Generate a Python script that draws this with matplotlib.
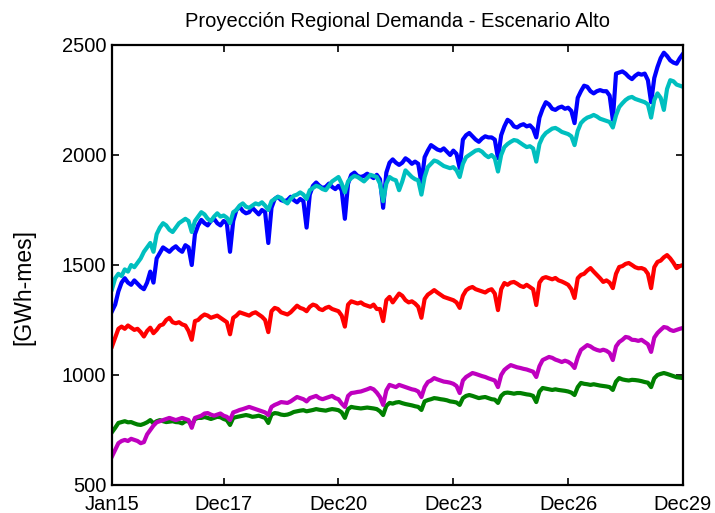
import matplotlib
matplotlib.use("Agg")
import matplotlib.pyplot as plt

plt.rcParams["font.family"] = ["Liberation Sans", "DejaVu Sans"]

# monthly regional demand, Jan 2015 .. Dec 2029 (GWh-mes), one row per year
BLUE = [
    1290, 1320, 1380, 1420, 1440, 1420, 1410, 1430, 1415, 1400, 1390, 1420,
    1470, 1420, 1530, 1555, 1580, 1570, 1560, 1575, 1585, 1570, 1560, 1590,
    1580, 1500, 1640, 1680, 1705, 1690, 1680, 1700, 1710, 1690, 1680, 1700,
    1690, 1560, 1700, 1750, 1765, 1745, 1735, 1740, 1760, 1745, 1730, 1750,
    1740, 1600, 1760, 1800, 1810, 1795, 1790, 1795, 1810, 1795, 1785, 1800,
    1790, 1670, 1820, 1860, 1875, 1860, 1850, 1855, 1870, 1855, 1845, 1860,
    1840, 1710, 1870, 1910, 1920, 1905, 1900, 1905, 1915, 1905, 1895, 1910,
    1890, 1760, 1920, 1965, 1980, 1965, 1955, 1965, 1985, 1975, 1960, 1970,
    1960, 1870, 1990, 2020, 2045, 2035, 2025, 2020, 2030, 2015, 2000, 2020,
    2005, 1940, 2070, 2090, 2100, 2085, 2070, 2060, 2075, 2085, 2080, 2080,
    2070, 1985, 2090, 2130, 2160, 2150, 2130, 2125, 2135, 2140, 2130, 2135,
    2120, 2080, 2170, 2210, 2240, 2230, 2210, 2205, 2215, 2220, 2210, 2215,
    2200, 2145, 2260, 2290, 2315, 2310, 2290, 2280, 2290, 2295, 2290, 2290,
    2270, 2160, 2370, 2375, 2380, 2370, 2355, 2345, 2360, 2370, 2365, 2370,
    2340, 2240, 2350, 2400, 2440, 2465, 2450, 2430, 2420, 2415, 2440, 2460,
]
GREEN = [
    740, 760, 782, 786, 790, 785, 786, 780, 775, 773, 778, 785,
    795, 780, 790, 795, 790, 786, 788, 790, 786, 785, 780, 790,
    790, 773, 800, 805, 805, 809, 805, 800, 805, 810, 808, 800,
    795, 773, 805, 809, 812, 815, 818, 815, 810, 812, 815, 810,
    805, 782, 820, 827, 825, 820, 818, 820, 825, 832, 835, 838,
    840, 835, 838, 841, 845, 842, 840, 838, 842, 845, 843, 840,
    830, 805, 845, 855, 852, 850, 848, 850, 852, 850, 848, 845,
    835, 818, 860, 873, 870, 875, 877, 872, 868, 865, 862, 858,
    855, 841, 880, 886, 890, 895, 893, 890, 888, 885, 880, 878,
    875, 864, 895, 905, 909, 905, 900, 895, 898, 900, 895, 890,
    888, 873, 905, 918, 920, 918, 915, 918, 918, 915, 912, 910,
    905, 877, 925, 941, 938, 935, 932, 935, 932, 930, 928, 925,
    920, 909, 945, 964, 960, 958, 955, 958, 955, 952, 950, 948,
    945, 932, 970, 986, 980, 977, 975, 978, 977, 975, 972, 968,
    965, 945, 985, 1000, 1005, 1009, 1005, 1000, 995, 990, 988, 986,
]
RED = [
    1130, 1170, 1210, 1220, 1210, 1225, 1215, 1205, 1210, 1195, 1175, 1200,
    1215, 1190, 1205, 1225, 1230, 1250, 1260, 1240, 1235, 1240, 1230, 1225,
    1200, 1160, 1245, 1250, 1265, 1275, 1270, 1260, 1265, 1270, 1260, 1250,
    1240, 1185, 1260, 1270, 1285, 1280, 1275, 1270, 1280, 1285, 1275, 1265,
    1250, 1195, 1290, 1305, 1300, 1285, 1280, 1275, 1285, 1300, 1315, 1305,
    1300, 1290, 1310, 1320, 1315, 1300, 1295, 1305, 1310, 1300, 1295, 1290,
    1270, 1220, 1320, 1335, 1330, 1325, 1330, 1320, 1315, 1310, 1320, 1300,
    1300, 1245, 1340, 1355, 1330, 1350, 1370, 1360, 1340, 1330, 1335, 1325,
    1310, 1260, 1345, 1365, 1375, 1386, 1375, 1365, 1355, 1350, 1345, 1340,
    1330, 1305, 1360, 1385, 1395, 1400, 1390, 1385, 1380, 1375, 1385, 1390,
    1370, 1295, 1390, 1418, 1410, 1420, 1423, 1415, 1405, 1400, 1410, 1400,
    1390, 1318, 1420, 1440, 1445, 1440, 1435, 1441, 1430, 1425, 1418, 1410,
    1390, 1350, 1440, 1455, 1460, 1475, 1486, 1470, 1455, 1440, 1423, 1430,
    1420, 1395, 1460, 1491, 1495, 1505, 1509, 1500, 1490, 1485, 1486, 1480,
    1460, 1395, 1490, 1514, 1520, 1535, 1545, 1530, 1510, 1486, 1495, 1500,
]
CYAN = [
    1390, 1440, 1460, 1450, 1480, 1470, 1500, 1490, 1510, 1530, 1560, 1580,
    1600, 1560, 1640, 1670, 1690, 1680, 1660, 1650, 1670, 1690, 1700, 1710,
    1700, 1650, 1700, 1720, 1740, 1730, 1710, 1700, 1720, 1735, 1720, 1725,
    1715, 1690, 1740, 1750, 1770, 1780, 1765, 1760, 1770, 1780, 1775, 1785,
    1770, 1750, 1790, 1800, 1810, 1805, 1790, 1780, 1800, 1815, 1820, 1830,
    1820, 1800, 1840, 1850, 1860, 1855, 1845, 1840, 1860, 1880, 1890, 1900,
    1870, 1830, 1880, 1895, 1905, 1900, 1890, 1880, 1895, 1910, 1905, 1900,
    1870, 1790, 1870, 1900, 1890, 1885, 1840, 1880, 1930, 1915, 1900, 1890,
    1885, 1820, 1900, 1945, 1960, 1975, 1970, 1960, 1950, 1945, 1940, 1945,
    1930, 1900, 1960, 1990, 2000, 2010, 2020, 2023, 2015, 2000, 1990, 2000,
    1985, 1925, 2000, 2036, 2050, 2060, 2068, 2065, 2055, 2045, 2036, 2040,
    2030, 1970, 2050, 2082, 2100, 2110, 2120, 2123, 2115, 2105, 2100, 2095,
    2085, 2045, 2110, 2145, 2160, 2170, 2175, 2182, 2175, 2165, 2160, 2155,
    2150, 2125, 2180, 2218, 2235, 2250, 2260, 2264, 2255, 2250, 2245, 2240,
    2230, 2170, 2250, 2280, 2260, 2205, 2300, 2340, 2335, 2320, 2315, 2310,
]
MAGENTA = [
    630, 660, 690, 700, 705, 700, 710, 705, 700, 690, 695, 730,
    750, 770, 785, 790, 795, 800, 805, 800, 795, 800, 805, 800,
    795, 760, 805, 810, 815, 825, 827, 820, 815, 820, 825, 815,
    810, 795, 830, 835, 841, 845, 850, 855, 850, 845, 840, 835,
    830, 818, 855, 864, 870, 877, 875, 873, 880, 890, 900, 895,
    890, 880, 895, 900, 905, 895, 890, 895, 900, 905, 895, 890,
    870, 855, 905, 918, 920, 923, 925, 930, 935, 941, 935, 920,
    900, 864, 930, 955, 950, 945, 955, 950, 945, 940, 935, 932,
    925, 900, 945, 968, 975, 986, 980, 975, 970, 968, 965, 960,
    950, 918, 975, 991, 1000, 1009, 1005, 1000, 995, 991, 985, 980,
    975, 945, 1000, 1023, 1035, 1045, 1040, 1035, 1032, 1028, 1025, 1020,
    1015, 991, 1040, 1068, 1075, 1082, 1078, 1070, 1065, 1059, 1065, 1060,
    1050, 1032, 1080, 1114, 1125, 1136, 1130, 1120, 1114, 1110, 1115, 1110,
    1100, 1068, 1130, 1150, 1160, 1173, 1170, 1160, 1159, 1155, 1160, 1150,
    1140, 1105, 1170, 1191, 1205, 1218, 1215, 1205, 1200, 1205, 1210, 1214,
]

X_TICKS = [0, 35, 71, 107, 143, 179]
X_LABELS = ["Jan15", "Dec17", "Dec20", "Dec23", "Dec26", "Dec29"]
Y_TICKS = [500, 1000, 1500, 2000, 2500]

# old matlab plot colour order: b, g, r, c, m
SERIES = [
    (BLUE, (0.0, 0.0, 1.0)),
    (GREEN, (0.0, 0.5, 0.0)),
    (RED, (1.0, 0.0, 0.0)),
    (CYAN, (0.0, 0.75, 0.75)),
    (MAGENTA, (0.75, 0.0, 0.75)),
]


def main() -> None:
    fig = plt.figure(figsize=(7.15, 5.13), dpi=100)
    ax = fig.add_axes([112 / 715, 1 - 485 / 513, 571 / 715, 440 / 513])

    for values, color in SERIES:
        ax.plot(range(len(values)), values, color=color, linewidth=3.0, solid_joinstyle="round")

    ax.set_xlim(0, len(BLUE) - 1)
    ax.set_ylim(500, 2500)
    ax.set_xticks(X_TICKS)
    ax.set_xticklabels(X_LABELS)
    ax.set_yticks(Y_TICKS)
    ax.tick_params(direction="in", length=5, width=1.2, top=True, right=True,
                   labelsize=14.5)
    ax.tick_params(axis="x", pad=7)
    ax.tick_params(axis="y", pad=4)
    for spine in ax.spines.values():
        spine.set_linewidth(1.6)

    ax.set_ylabel("[GWh-mes]", fontsize=16.5)
    ax.yaxis.set_label_coords(-0.135, 0.45)
    ax.set_title("Proyección Regional Demanda - Escenario Alto", fontsize=14.5, pad=13)

    fig.savefig("out.png", dpi=100)
    plt.close(fig)


if __name__ == "__main__":
    main()
